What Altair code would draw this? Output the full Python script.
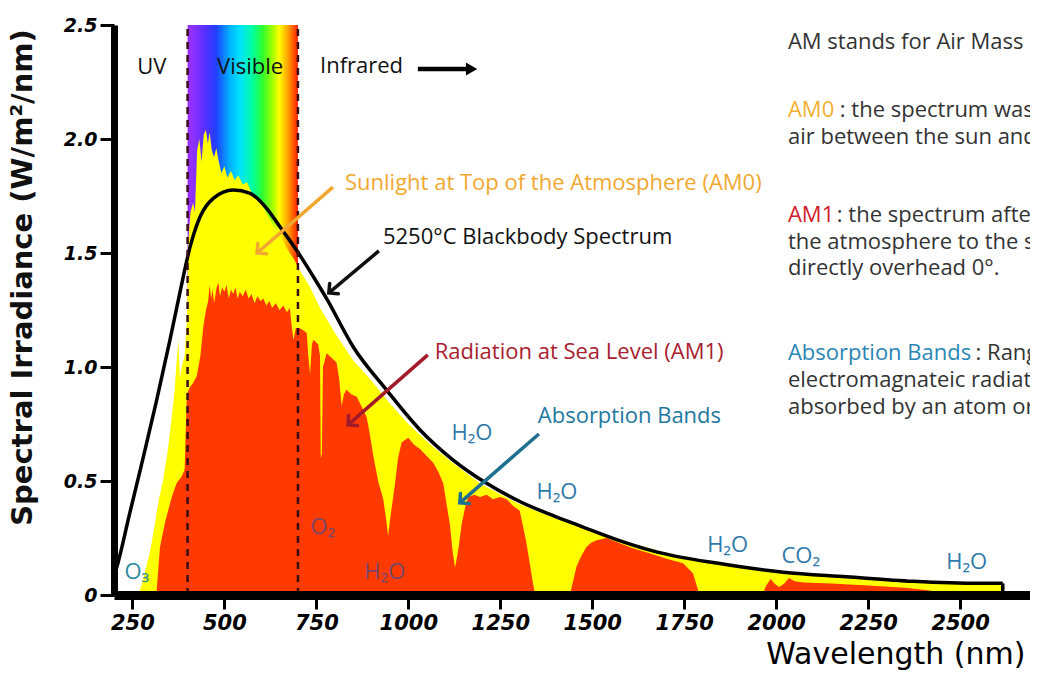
import math
import altair as alt
import pandas as pd

# ---------------- data ----------------
# 5250 degC blackbody curve
bb_nm = [200, 207, 243, 280, 316, 352, 379, 407, 434, 470, 524, 570, 615, 651, 696, 742, 778,
         850, 941, 1032, 1122, 1213, 1303, 1394, 1475, 1566, 1657, 1747, 1838, 1928, 2019,
         2191, 2372, 2553, 2616]
bb_val = [0.08, 0.118, 0.36, 0.607, 0.855, 1.118, 1.325, 1.528, 1.659, 1.74, 1.776, 1.762, 1.696,
          1.615, 1.513, 1.396, 1.30, 1.089, 0.899, 0.724, 0.592, 0.49, 0.41, 0.348, 0.298, 0.243,
          0.197, 0.164, 0.14, 0.118, 0.1, 0.08, 0.06, 0.051, 0.051]

# Sunlight at top of the atmosphere (AM0)
am0_nm = [262, 270, 278, 290, 298, 310, 322, 333, 345, 357, 365, 370, 375, 379, 384,
          392, 398, 402, 408, 415, 420, 426, 432, 438, 444, 450, 455, 460, 466, 472,
          478, 485, 492, 500, 508, 518, 528, 538, 550, 562, 575, 590, 610, 630, 650,
          670, 690, 710, 730, 760, 800, 850, 900, 950, 1000, 1060, 1120, 1200, 1300, 1400,
          1500, 1600, 1700, 1800, 1900, 2000, 2100, 2200, 2300, 2400, 2500, 2612, 2614]
am0_val = [0, 0.02, 0.06, 0.14, 0.19, 0.3, 0.42, 0.5, 0.62, 0.78, 0.9, 1.02, 1.12, 0.95, 1.0,
           1.05, 1.2, 1.55, 1.68, 1.72, 1.68, 1.95, 2.0, 1.9, 2.02, 2.04, 1.98, 2.03, 1.95, 1.92,
           1.96, 1.9, 1.85, 1.88, 1.83, 1.86, 1.82, 1.84, 1.8, 1.81, 1.76, 1.74, 1.69, 1.63, 1.58,
           1.52, 1.47, 1.41, 1.36, 1.26, 1.15, 1.03, 0.94, 0.84, 0.75, 0.66, 0.58, 0.485, 0.4, 0.335,
           0.28, 0.23, 0.185, 0.148, 0.12, 0.098, 0.085, 0.072, 0.062, 0.055, 0.05, 0.045, 0]

# Radiation at sea level (AM1)
am1_nm = [300, 316, 325, 339, 357, 370, 384, 392, 398, 406,
          415, 425, 435, 443, 450, 456, 460, 464, 468, 472,
          479, 484, 488, 494, 500, 506, 512, 518, 524, 530,
          536, 542, 550, 558, 566, 574, 582, 590, 598, 606,
          614, 622, 630, 640, 650, 660, 670, 678, 683, 688,
          694, 705, 715, 724, 728, 733, 738, 742, 755, 760,
          762, 765, 768, 778, 792, 805, 812, 819, 825, 832,
          845, 860, 875, 887, 896, 905, 918, 932, 940, 945,
          952, 958, 964, 972, 982, 1000, 1015, 1032, 1050, 1068,
          1082, 1095, 1104, 1113, 1120, 1127, 1136, 1145, 1154, 1163,
          1180, 1195, 1213, 1230, 1250, 1267, 1285, 1303, 1312, 1321,
          1330, 1339, 1345, 1439, 1448, 1457, 1470, 1484, 1498, 1512,
          1539, 1566, 1610, 1656, 1700, 1747, 1774, 1788, 1792, 1962,
          1972, 1985, 1995, 2008, 2022, 2035, 2050, 2075, 2150, 2250,
          2350, 2420, 2440]
am1_val = [0, 0.02, 0.21, 0.32, 0.43, 0.49, 0.52, 0.55, 0.88, 0.91,
           0.93, 0.96, 1.05, 1.18, 1.25, 1.29, 1.36, 1.3, 1.34, 1.28,
           1.35, 1.37, 1.31, 1.35, 1.33, 1.36, 1.3, 1.34, 1.32, 1.35,
           1.3, 1.33, 1.31, 1.34, 1.3, 1.32, 1.28, 1.31, 1.29, 1.3,
           1.27, 1.29, 1.26, 1.28, 1.25, 1.27, 1.24, 1.26, 1.18, 1.12,
           1.17, 1.17, 1.16, 1.15, 1.05, 0.97, 1.1, 1.12, 1.1, 1.05,
           0.6, 0.62, 1.0, 1.06, 1.04, 1.02, 0.95, 0.83, 0.88, 0.9,
           0.88, 0.87, 0.82, 0.78, 0.7, 0.61, 0.5, 0.42, 0.33, 0.26,
           0.35, 0.42, 0.49, 0.6, 0.67, 0.69, 0.66, 0.64, 0.61, 0.58,
           0.54, 0.49, 0.4, 0.31, 0.2, 0.12, 0.2, 0.31, 0.38, 0.43,
           0.44, 0.43, 0.44, 0.42, 0.43, 0.42, 0.39, 0.37, 0.3, 0.23,
           0.14, 0.05, 0, 0, 0.06, 0.124, 0.17, 0.21, 0.23, 0.24,
           0.25, 0.233, 0.205, 0.183, 0.16, 0.139, 0.095, 0.02, 0, 0,
           0.04, 0.07, 0.05, 0.035, 0.05, 0.075, 0.06, 0.055, 0.05, 0.042,
           0.032, 0.02, 0]

# visible band limits and tick values
band_nm = [400, 700]
x_ticks = [250, 500, 750, 1000, 1250, 1500, 1750, 2000, 2250, 2500]
y_ticks = [0, 0.5, 1.0, 1.5, 2.0, 2.5]

# annotation labels (left aligned)
lab_text = ["Infrared", "Sunlight at Top of the Atmosphere (AM0)", "5250°C Blackbody Spectrum",
            "Radiation at Sea Level (AM1)", "Absorption Bands"]
lab_nm = [760, 828, 931, 1072, 1352]
lab_val = [2.32, 1.807, 1.57, 1.066, 0.785]
lab_color = ["#111111", "#F0A830", "#111111", "#A8202F", "#2378A0"]

# centred labels
cen_text = ["UV", "Visible", "H₂O", "H₂O", "H₂O", "CO₂", "H₂O", "O₃"]
cen_nm = [303, 570, 1173, 1404, 1868, 2067, 2518, 262]
cen_val = [2.316, 2.316, 0.711, 0.452, 0.219, 0.171, 0.145, 0.10]
cen_color = ["#111111", "#111111", "#2E7AAA", "#2E7AAA", "#2E7AAA", "#2E7AAA", "#2E7AAA", "#2E8A9E"]

# labels printed over the red area
dim_text = ["O₂", "H₂O"]
dim_nm = [768, 936]
dim_val = [0.298, 0.10]

# side notes (clipped at the right edge like the original)
note_text = ["AM stands for Air Mass Coefficient",
             "AM0", ": the spectrum was measured with no",
             "air between the sun and the earth.",
             "AM1", ": the spectrum after traveling through",
             "the atmosphere to the sea level with the sun",
             "directly overhead 0°.",
             "Absorption Bands", ": Range of wavelengths in the",
             "electromagnateic radiation spectrum that is",
             "absorbed by an atom or molecule."]
note_nm = [2032, 2032, 2173, 2032, 2032, 2165, 2032, 2032, 2032, 2542, 2032, 2032]
note_val = [2.425, 2.127, 2.127, 2.009, 1.667, 1.667, 1.548, 1.434, 1.061, 1.061, 0.943, 0.825]
note_color = ["#333333", "#F0B030", "#333333", "#333333", "#D0202A", "#333333", "#333333",
              "#333333", "#2A86B4", "#333333", "#333333", "#333333"]

# pointer arrows: start -> tip
arr_x1 = [795, 920, 1053, 1355]
arr_y1 = [1.789, 1.509, 1.053, 0.706]
arr_x2 = [589, 784, 836, 1140]
arr_y2 = [1.50, 1.325, 0.746, 0.404]
arr_color = ["#F0A830", "#111111", "#A31A2A", "#1F6F8F"]

# "Infrared ->" arrow
ir_x1, ir_x2, ir_y = 1026, 1172, 2.307

# ---------------- chart geometry ----------------
W, H = 916, 570
XMIN, XMAX = 200, 2690
YMIN, YMAX = 0.0, 2.5
xs = alt.Scale(domain=[XMIN, XMAX], nice=False, zero=False)
ys = alt.Scale(domain=[YMIN, YMAX], nice=False, zero=False)
FONT = "Open Sans"

XAX = alt.Axis(
    values=x_ticks, format="d", title="Wavelength (nm)", grid=False,
    labelFont="DejaVu Sans", labelFontStyle="italic", labelFontWeight="bold",
    labelFontSize=21, labelColor="black", labelPadding=3, labelFlush=False,
    tickSize=14, tickWidth=3, tickColor="black",
    domainWidth=9, domainColor="black",
    titleFont="DejaVu Sans", titleFontSize=30, titleFontWeight="normal",
    titleColor="black", titleAlign="right", titleAnchor="end",
    titleX=911, titleY=68, titleBaseline="alphabetic", zindex=1)
YAX = alt.Axis(
    values=y_ticks, grid=False,
    labelExpr="datum.value == 0 ? '0' : format(datum.value, '.1f')",
    labelFont="DejaVu Sans", labelFontStyle="italic", labelFontWeight="bold",
    labelFontSize=19, labelColor="black", labelPadding=3,
    tickSize=14, tickWidth=3, tickColor="black",
    domainWidth=7, domainColor="black",
    title="Spectral Irradiance (W/m²/nm)",
    titleFont="DejaVu Sans", titleFontSize=29, titleFontWeight="bold",
    titleColor="#111111", titleAngle=270, titleAlign="center",
    titleBaseline="middle", titleX=-92, titleY=252, zindex=1)


def X(field):
    return alt.X(field, scale=xs, axis=XAX)


def Y(field):
    return alt.Y(field, scale=ys, axis=YAX)


def head_angle(x1, y1, x2, y2):
    dx = (x2 - x1) * W / (XMAX - XMIN)
    dy = -(y2 - y1) * H / (YMAX - YMIN)
    return math.degrees(math.atan2(dx, -dy)) % 360


# ---------------- layers ----------------
rainbow = alt.Chart(pd.DataFrame({"a": [band_nm[0]], "b": [band_nm[1]],
                                  "lo": [YMIN], "hi": [YMAX]})).mark_rect(
    color=alt.Gradient(
        gradient="linear", x1=0, x2=1, y1=0, y2=0,
        stops=[alt.GradientStop(color="#9b30ff", offset=0.0),
               alt.GradientStop(color="#8a30ff", offset=0.06),
               alt.GradientStop(color="#5030ff", offset=0.17),
               alt.GradientStop(color="#2040ff", offset=0.26),
               alt.GradientStop(color="#00b0ff", offset=0.38),
               alt.GradientStop(color="#00e0ff", offset=0.47),
               alt.GradientStop(color="#00ffa0", offset=0.59),
               alt.GradientStop(color="#30ff30", offset=0.68),
               alt.GradientStop(color="#a0ff00", offset=0.77),
               alt.GradientStop(color="#ffff00", offset=0.83),
               alt.GradientStop(color="#ffa000", offset=0.91),
               alt.GradientStop(color="#ff2000", offset=1.0)])
).encode(x=X("a:Q"), x2="b:Q", y=Y("lo:Q"), y2="hi:Q")

yellow = alt.Chart(pd.DataFrame({"nm": am0_nm, "v": am0_val})).mark_area(
    color="#FFFF00", interpolate="linear").encode(x=X("nm:Q"), y=Y("v:Q"))

red = alt.Chart(pd.DataFrame({"nm": am1_nm, "v": am1_val})).mark_area(
    color="#FF3A00", interpolate="linear").encode(x=X("nm:Q"), y=Y("v:Q"))

bb = alt.Chart(pd.DataFrame({"nm": bb_nm, "v": bb_val})).mark_line(
    color="black", strokeWidth=3.5, interpolate="monotone").encode(x=X("nm:Q"), y=Y("v:Q"))

bb_end = alt.Chart(pd.DataFrame({"nm": [bb_nm[-1]], "lo": [0.0], "v": [bb_val[-1]]})).mark_rule(
    color="black", strokeWidth=3.5).encode(x=X("nm:Q"), y=Y("lo:Q"), y2="v:Q")

dashes = alt.Chart(pd.DataFrame({"nm": band_nm, "lo": [YMIN, YMIN], "hi": [YMAX, YMAX]})).mark_rule(
    color="#3a0d14", strokeWidth=2.5, strokeDash=[7, 6]).encode(x=X("nm:Q"), y=Y("lo:Q"), y2="hi:Q")

arr_df = pd.DataFrame({"x1": arr_x1, "y1": arr_y1, "x2": arr_x2, "y2": arr_y2, "c": arr_color,
                       "ang": [head_angle(a, b, c, d) for a, b, c, d in
                               zip(arr_x1, arr_y1, arr_x2, arr_y2)]})
arr_lines = alt.Chart(arr_df).mark_rule(strokeWidth=3.5).encode(
    x=X("x1:Q"), x2="x2:Q", y=Y("y1:Q"), y2="y2:Q",
    color=alt.Color("c:N", scale=None))
arr_heads = alt.Chart(arr_df).mark_point(
    shape="M-0.75,0.75L0,0L0.75,0.75", filled=False, strokeWidth=3.5, size=320,
    opacity=1, strokeCap="round").encode(
    x=X("x2:Q"), y=Y("y2:Q"),
    angle=alt.Angle("ang:Q", scale=None),
    color=alt.Color("c:N", scale=None))

ir_line = alt.Chart(pd.DataFrame({"a": [ir_x1], "b": [ir_x2], "y": [ir_y]})).mark_rule(
    color="black", strokeWidth=4.5).encode(x=X("a:Q"), x2="b:Q", y=Y("y:Q"))
ir_head = alt.Chart(pd.DataFrame({"b": [ir_x2], "y": [ir_y]})).mark_point(
    shape="triangle-right", filled=True, size=170, color="black", opacity=1).encode(
    x=X("b:Q"), y=Y("y:Q"))

labels = alt.Chart(pd.DataFrame({"t": lab_text, "nm": lab_nm, "v": lab_val, "c": lab_color})).mark_text(
    align="left", baseline="middle", font=FONT, fontSize=22).encode(
    x=X("nm:Q"), y=Y("v:Q"), text="t:N", color=alt.Color("c:N", scale=None))

centred = alt.Chart(pd.DataFrame({"t": cen_text, "nm": cen_nm, "v": cen_val, "c": cen_color})).mark_text(
    align="center", baseline="middle", font=FONT, fontSize=22).encode(
    x=X("nm:Q"), y=Y("v:Q"), text="t:N", color=alt.Color("c:N", scale=None))

dim = alt.Chart(pd.DataFrame({"t": dim_text, "nm": dim_nm, "v": dim_val})).mark_text(
    align="center", baseline="middle", font=FONT, fontSize=22, color="#4a4a8c", opacity=0.75).encode(
    x=X("nm:Q"), y=Y("v:Q"), text="t:N")

notes = alt.Chart(pd.DataFrame({"t": note_text, "nm": note_nm, "v": note_val, "c": note_color})).mark_text(
    align="left", baseline="middle", font=FONT, fontSize=22).encode(
    x=X("nm:Q"), y=Y("v:Q"), text="t:N", color=alt.Color("c:N", scale=None))

chart = alt.layer(
    rainbow, yellow, red, bb, bb_end, dashes, arr_lines, arr_heads, ir_line, ir_head,
    labels, centred, dim, notes
).properties(
    width=W, height=H,
    autosize=alt.AutoSizeParams(type="none"),
    padding={"left": 106, "top": 17, "right": 0, "bottom": 76},
    background="white",
).configure_view(strokeWidth=0)

chart.save("out.html", embed_options={"renderer": "svg", "actions": False})
